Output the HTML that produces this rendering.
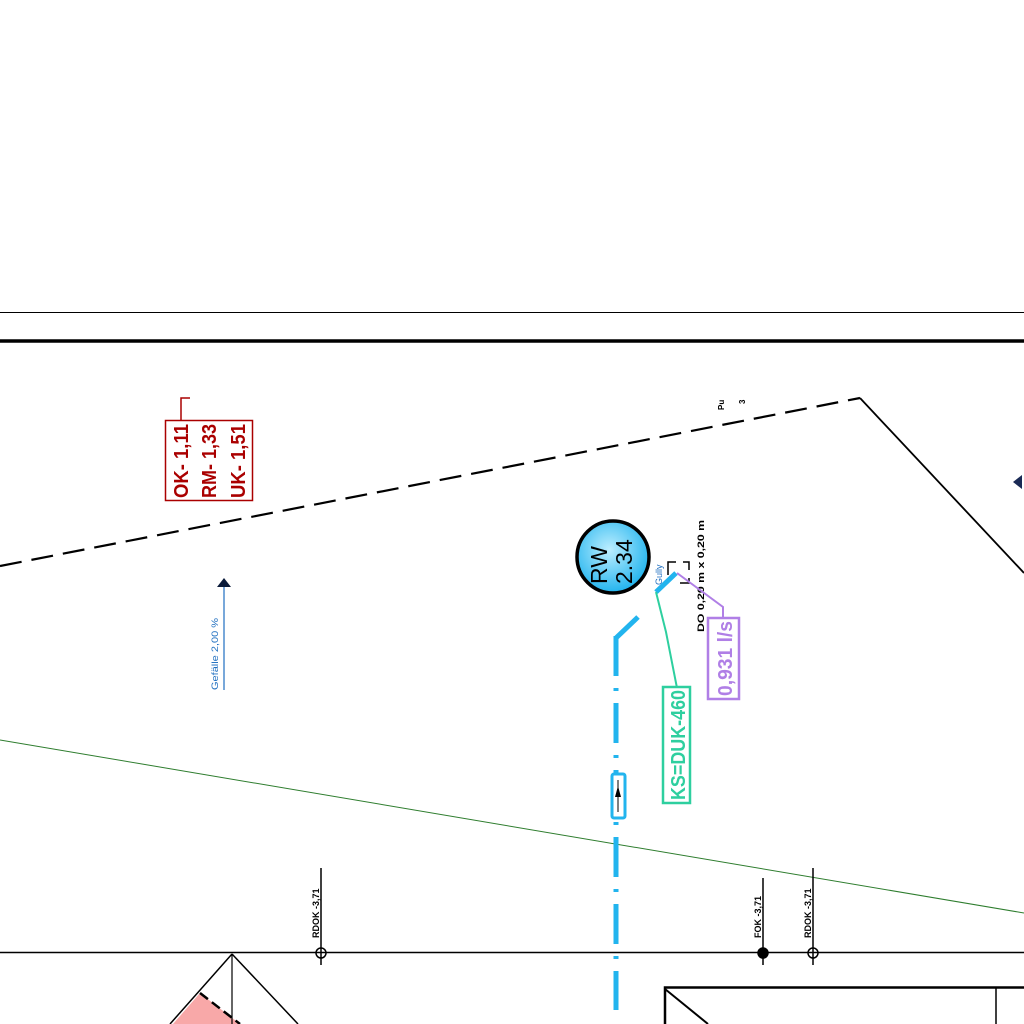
<!DOCTYPE html>
<html><head><meta charset="utf-8"><style>html,body{margin:0;padding:0;background:#fff}svg{display:block}</style></head>
<body>
<svg width="1024" height="1024" viewBox="0 0 1024 1024" xmlns="http://www.w3.org/2000/svg" font-family="Liberation Sans, sans-serif">
<rect width="1024" height="1024" fill="#fff"/>
<line x1="0" y1="312.5" x2="1024" y2="312.5" stroke="#000" stroke-width="1"/>
<line x1="0" y1="341" x2="1024" y2="341" stroke="#000" stroke-width="3.5"/>
<line x1="0" y1="566" x2="860" y2="398" stroke="#000" stroke-width="2.2" stroke-dasharray="22,10"/>
<line x1="860" y1="398" x2="1024" y2="573" stroke="#000" stroke-width="1.8"/>
<polygon points="1013,482 1022,475 1022,489" fill="#1a2a55"/>
<text transform="translate(724,410) rotate(-90)" font-size="8" font-weight="bold">Pu</text>
<text transform="translate(745,404) rotate(-90)" font-size="8" font-weight="bold">3</text>
<line x1="0" y1="740" x2="1024" y2="913" stroke="#2e7d2e" stroke-width="1"/>
<polyline points="190,398 181,398 181,420" fill="none" stroke="#a00" stroke-width="1.5"/>
<rect x="165.5" y="420.5" width="87" height="80" fill="#fff" stroke="#a00" stroke-width="1.5"/>
<g fill="#a00" font-size="20" font-weight="bold">
<text transform="translate(188,498) rotate(-90)" textLength="74" lengthAdjust="spacingAndGlyphs">OK- 1,11</text>
<text transform="translate(216,498) rotate(-90)" textLength="74" lengthAdjust="spacingAndGlyphs">RM- 1,33</text>
<text transform="translate(245,498) rotate(-90)" textLength="74" lengthAdjust="spacingAndGlyphs">UK- 1,51</text>
</g>
<line x1="224" y1="585" x2="224" y2="690" stroke="#1f6fc0" stroke-width="1.2"/>
<polygon points="224,578 217,587 231,587" fill="#0a1a3a"/>
<text transform="translate(218,690) rotate(-90)" font-size="9" fill="#1f6fc0" textLength="72" lengthAdjust="spacingAndGlyphs">Gefälle 2,00 %</text>
<defs><radialGradient id="g" cx="0.45" cy="0.4" r="0.6"><stop offset="0" stop-color="#bdeeff"/><stop offset="1" stop-color="#22b4ee"/></radialGradient></defs>
<circle cx="613" cy="557" r="36" fill="url(#g)" stroke="#000" stroke-width="3.5"/>
<text transform="translate(607,584) rotate(-90)" font-size="23">RW</text>
<text transform="translate(632,584) rotate(-90)" font-size="23">2.34</text>
<text transform="translate(662,585) rotate(-90)" font-size="9" fill="#1f6fc0">Gully</text>
<path d="M668,575 L668,562 L676,562 M683,562 L689,562 L689,570 M689,578 L689,583 L680,583" fill="none" stroke="#000" stroke-width="1.5"/>
<text transform="translate(704,632) rotate(-90)" font-size="9" font-weight="bold" textLength="112" lengthAdjust="spacingAndGlyphs">DO  0,20  m  x 0,20  m</text>
<line x1="676" y1="573" x2="656" y2="592" stroke="#22b4ee" stroke-width="5"/>
<line x1="638" y1="617" x2="616" y2="638" stroke="#22b4ee" stroke-width="5"/>
<line x1="616" y1="636" x2="616" y2="1010" stroke="#22b4ee" stroke-width="5" stroke-dasharray="40,12,3,12"/>
<rect x="612" y="774" width="13" height="44" rx="2" fill="#fff" stroke="#22b4ee" stroke-width="3"/>
<line x1="618" y1="780" x2="618" y2="812" stroke="#000" stroke-width="1"/>
<polygon points="618,786 615,797 621,797" fill="#000"/>
<polyline points="656,592 666,632 677,688" fill="none" stroke="#2ecf9f" stroke-width="2"/>
<rect x="663" y="687" width="27" height="116" fill="#fff" stroke="#2ecf9f" stroke-width="2.5"/>
<text transform="translate(685,800) rotate(-90)" font-size="20" font-weight="bold" fill="#2ecf9f" textLength="110" lengthAdjust="spacingAndGlyphs">KS=DUK-460</text>
<polyline points="677,573 723,607 723,618" fill="none" stroke="#b07fe6" stroke-width="2"/>
<rect x="708" y="618" width="31" height="81" fill="#fff" stroke="#b07fe6" stroke-width="2.5"/>
<text transform="translate(732,696) rotate(-90)" font-size="20" font-weight="bold" fill="#b07fe6" textLength="75" lengthAdjust="spacingAndGlyphs">0,931 l/s</text>
<line x1="0" y1="952.5" x2="1024" y2="952.5" stroke="#000" stroke-width="1.5"/>
<g stroke="#000" stroke-width="1.5" fill="none">
<line x1="321" y1="868" x2="321" y2="965"/><circle cx="321" cy="953" r="5"/>
<line x1="763" y1="878" x2="763" y2="965"/><circle cx="763" cy="953" r="5" fill="#000"/>
<line x1="813" y1="868" x2="813" y2="965"/><circle cx="813" cy="953" r="5"/>
</g>
<g font-size="9" font-weight="bold">
<text transform="translate(319,938) rotate(-90)">RDOK -3,71</text>
<text transform="translate(761,938) rotate(-90)">FOK -3,71</text>
<text transform="translate(811,938) rotate(-90)">RDOK -3,71</text>
</g>
<polygon points="200,993 240,1024 173,1024" fill="#f8a8a8"/>
<polyline points="200,993 240,1024" fill="none" stroke="#000" stroke-width="2.5" stroke-dasharray="10,5"/>
<line x1="232" y1="954" x2="170" y2="1024" stroke="#000" stroke-width="1.5"/>
<line x1="232" y1="954" x2="298" y2="1024" stroke="#000" stroke-width="1.5"/>
<line x1="232" y1="954" x2="232" y2="1024" stroke="#000" stroke-width="1.2"/>
<path d="M665,1024 L665,987.5 L1024,987.5" fill="none" stroke="#000" stroke-width="2.5"/>
<line x1="996" y1="987" x2="996" y2="1024" stroke="#000" stroke-width="1.5"/>
<line x1="665" y1="989" x2="708" y2="1024" stroke="#000" stroke-width="2"/>
</svg>
</body></html>
